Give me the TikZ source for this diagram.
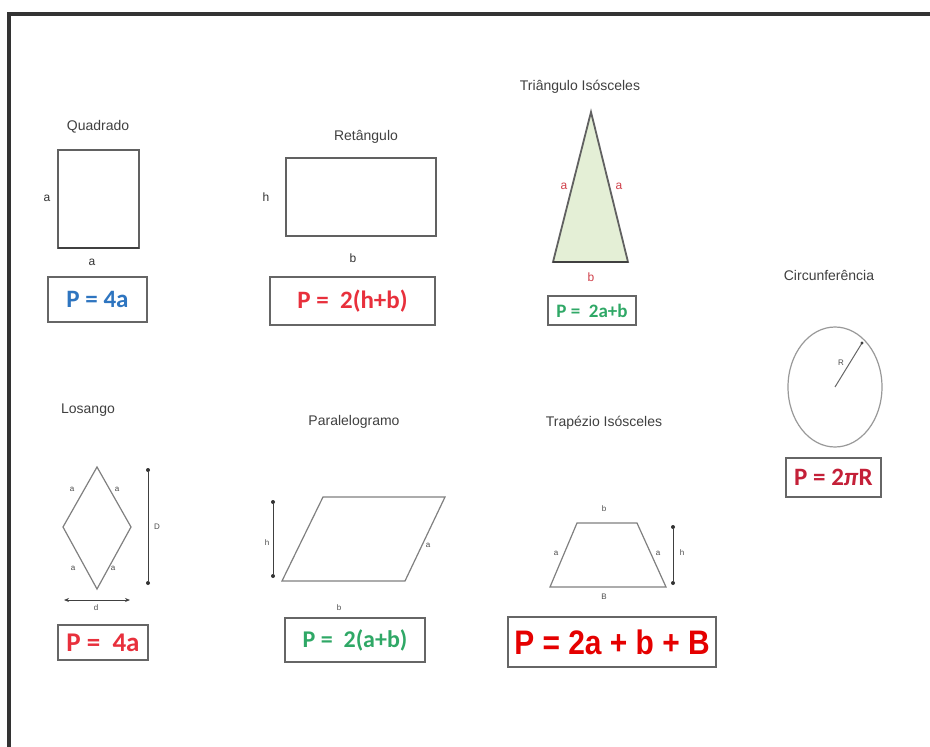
\documentclass[tikz,border=0pt]{standalone}
\usepackage{fontspec}
\setmainfont{Liberation Sans}
\newfontfamily\calib{Carlito}
\usetikzlibrary{arrows.meta}
\definecolor{fblue}{HTML}{2E75C0}
\definecolor{fred}{HTML}{E8303C}
\definecolor{fgreen}{HTML}{2FA866}
\definecolor{fdred}{HTML}{C42038}
\definecolor{trired}{HTML}{D0404A}
\definecolor{trifill}{HTML}{E4EFD6}
\begin{document}
\begin{tikzpicture}[x=1pt,y=-1pt,
  title/.style={font=\fontsize{14}{16}\selectfont, text=black!75, inner sep=0},
  lbl/.style={font=\fontsize{12}{13}\selectfont, text=black!80, inner sep=0},
  tiny/.style={font=\fontsize{8}{9}\selectfont, text=black!70, inner sep=0},
  fbox/.style={draw=black!60, line width=2.2pt, fill=white, inner sep=0},
  shp/.style={draw=black!62, line width=1.8pt, line join=miter},
  thn/.style={draw=black!50, line width=1.2pt, line join=miter},
  dim/.style={draw=black!75, line width=1pt},
  dotn/.style={circle, fill=black!80, inner sep=0, minimum size=4pt},
]
\useasboundingbox (0,0) rectangle (930,747);
\fill[white] (0,0) rectangle (930,747);
% frame
\draw[line width=4pt, black!80] (9,747) -- (9,14) -- (930,14);

% ---------- Quadrado ----------
\node[title] (tq) at (98,127) {Quadrado};
\coordinate (q1) at (58,150); \coordinate (q2) at (139,150);
\coordinate (q3) at (139,248); \coordinate (q4) at (58,248);
\draw[shp] (q1) -- (q2) -- (q3) -- (q4) -- cycle;
\draw[black!75, line width=2.4pt] (q4) -- (q3);
\node[lbl] (qa1) at (47,198) {a};
\node[lbl] (qa2) at (92,262) {a};
\node[fbox, minimum width=99, minimum height=45] (fq) at (97.5,299.5) {};
\node[font=\calib\bfseries\fontsize{25}{28}\selectfont, text=fblue] (fqt) at (fq.center) {P = 4a};

% ---------- Retangulo ----------
\node[title] (tr) at (366,137) {Retângulo};
\coordinate (r1) at (286,158); \coordinate (r2) at (436,158);
\coordinate (r3) at (436,236); \coordinate (r4) at (286,236);
\draw[shp] (r1) -- (r2) -- (r3) -- (r4) -- cycle;
\node[lbl] (rh) at (266,197) {h};
\node[lbl] (rb) at (353,258) {b};
\node[fbox, minimum width=165, minimum height=48] (fr) at (352.5,301) {};
\node[font=\calib\bfseries\fontsize{25}{28}\selectfont, text=fred] (frt) at (fr.center) {P =\ \ 2(h+b)};

% ---------- Triangulo ----------
\node[title] (tt) at (580,87) {Triângulo Isósceles};
\coordinate (t1) at (591,112); \coordinate (t2) at (628,262); \coordinate (t3) at (553,262);
\draw[shp, fill=trifill] (t1) -- (t2) -- (t3) -- cycle;
\draw[black!75, line width=2.4pt] (t3) -- (t2);
\node[lbl, text=trired] (ta1) at (564,186) {a};
\node[lbl, text=trired] (ta2) at (619,186) {a};
\node[lbl, text=trired] (tb) at (591,277) {b};
\node[fbox, minimum width=88, minimum height=29] (ft) at (592,310.5) {};
\node[font=\calib\bfseries\fontsize{19}{22}\selectfont, text=fgreen] (ftt) at (ft.center) {P =\ \ 2a+b};

% ---------- Circunferencia ----------
\node[title] (tc) at (829,275) {Circunferência};
\coordinate (cc) at (835,387);
\draw[draw=black!40, line width=1.2pt] (cc) ellipse [x radius=47, y radius=60];
\coordinate (ce) at (862,343);
\draw[black!60, line width=1pt] (cc) -- (ce);
\fill[black!75] (ce) circle (1.6);
\node[tiny] (cr) at (841,363) {R};
\node[fbox, minimum width=95, minimum height=39] (fc) at (833.5,477.5) {};
\node[font=\calib\bfseries\fontsize{25}{28}\selectfont, text=fdred] (fct) at (fc.center) {P = 2\textit{π}R};

% ---------- Losango ----------
\node[title] (tl) at (88,410) {Losango};
\coordinate (l1) at (97,467); \coordinate (l2) at (131,527);
\coordinate (l3) at (97,589); \coordinate (l4) at (63,527);
\draw[thn] (l1) -- (l2) -- (l3) -- (l4) -- cycle;
\node[tiny] (la1) at (72,489) {a};
\node[tiny] (la2) at (117,489) {a};
\node[tiny] (la3) at (73,568) {a};
\node[tiny] (la4) at (113,568) {a};
\node[dotn] (lD1) at (148,470) {};
\node[dotn] (lD2) at (148,583) {};
\draw[dim] (lD1) -- (lD2);
\node[tiny] (lD) at (157,527) {D};
\coordinate (ld1) at (64,600); \coordinate (ld2) at (130,600);
\draw[dim, {Stealth[length=5pt,width=4pt]}-{Stealth[length=5pt,width=4pt]}] (ld1) -- (ld2);
\node[tiny] (ld) at (96,608) {d};
\node[fbox, minimum width=90, minimum height=35] (fl) at (103,642.5) {};
\node[font=\calib\bfseries\fontsize{27}{30}\selectfont, text=fred] (flt) at (fl.center) {P =\ \ 4a};

% ---------- Paralelogramo ----------
\node[title] (tp) at (354,422) {Paralelogramo};
\coordinate (p1) at (323,497); \coordinate (p2) at (445,497);
\coordinate (p3) at (405,581); \coordinate (p4) at (282,581);
\draw[thn] (p1) -- (p2) -- (p3) -- (p4) -- cycle;
\node[dotn] (ph1) at (273,502) {};
\node[dotn] (ph2) at (273,576) {};
\draw[dim] (ph1) -- (ph2);
\node[tiny] (ph) at (267,543) {h};
\node[tiny] (pa) at (428,545) {a};
\node[tiny] (pb) at (339,608) {b};
\node[fbox, minimum width=140, minimum height=44] (fp) at (355,640) {};
\node[font=\calib\bfseries\fontsize{24}{27}\selectfont, text=fgreen] (fpt) at (fp.center) {P =\ \ 2(a+b)};

% ---------- Trapezio ----------
\node[title] (tz) at (604,423) {Trapézio Isósceles};
\coordinate (z1) at (577,523); \coordinate (z2) at (637,523);
\coordinate (z3) at (666,587); \coordinate (z4) at (550,587);
\draw[thn] (z1) -- (z2) -- (z3) -- (z4) -- cycle;
\node[tiny] (zb) at (604,509) {b};
\node[tiny] (za1) at (556,553) {a};
\node[tiny] (za2) at (658,553) {a};
\node[tiny] (zB) at (604,597) {B};
\node[dotn] (zh1) at (673,527) {};
\node[dotn] (zh2) at (673,583) {};
\draw[dim] (zh1) -- (zh2);
\node[tiny] (zh) at (682,553) {h};
\node[fbox, minimum width=208, minimum height=50] (fz) at (612,642) {};
\node[font=\bfseries\fontsize{34}{38}\selectfont, text=red!90!black] (fzt) at (fz.center) {\scalebox{0.88}[1]{P = 2a + b + B}};
\end{tikzpicture}
\end{document}
